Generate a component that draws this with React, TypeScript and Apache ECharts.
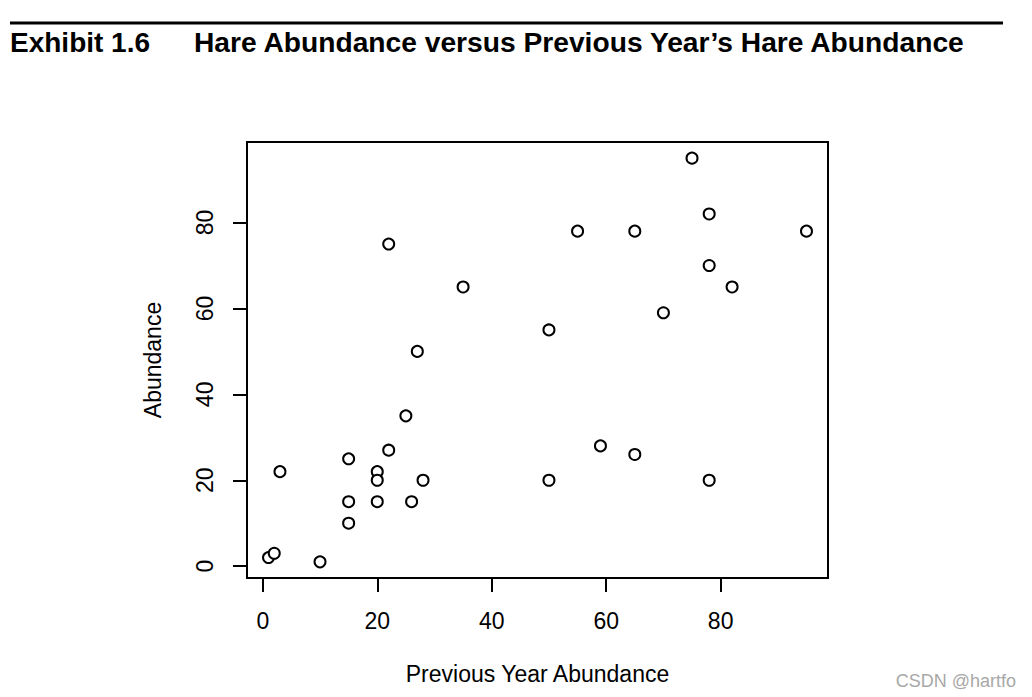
import React, { useEffect, useRef } from "react";
import * as echarts from "echarts";

// Previous year's hare abundance (x) and this year's abundance (y)
const prevYear = [1, 2, 3, 10, 15, 15, 15, 20, 20, 20, 22, 22, 25, 26, 27, 28, 35, 50, 50, 55, 59, 65, 65, 70, 75, 78, 78, 78, 82, 95];
const abundance = [2, 3, 22, 1, 25, 15, 10, 22, 20, 15, 75, 27, 35, 15, 50, 20, 65, 55, 20, 78, 28, 78, 26, 59, 95, 82, 70, 20, 65, 78];
const xTicks = [0, 20, 40, 60, 80];
const yTicks = [0, 20, 40, 60, 80];
const exhibitLabel = "Exhibit 1.6";
const titleText = "Hare Abundance versus Previous Year’s Hare Abundance";
const xName = "Previous Year Abundance";
const yName = "Abundance";
const watermark = "CSDN @hartfo";

const FONT = "'Liberation Sans', Arial, Helvetica, sans-serif";

export default function App() {
  const ref = useRef<HTMLDivElement>(null);
  useEffect(() => {
    if (!ref.current) return;
    const chart = echarts.init(ref.current, null, { renderer: "svg" });
    // R-style 4% padding around data range
    const pad = (arr: number[]) => {
      const mn = Math.min(...arr);
      const mx = Math.max(...arr);
      const d = (mx - mn) * 0.04;
      return [mn - d, mx + d];
    };
    const [xMin, xMax] = pad(prevYear);
    const [yMin, yMax] = pad(abundance);
    const tickStyle = { show: true, inside: false, length: 14, lineStyle: { color: "#000", width: 2 } };
    chart.setOption({
      animation: false,
      backgroundColor: "#fff",
      grid: {
        left: 247,
        right: 204,
        top: 142,
        bottom: 119,
        show: true,
        borderColor: "#000",
        borderWidth: 2,
        backgroundColor: "transparent",
      },
      xAxis: {
        type: "value",
        position: "bottom",
        min: xMin,
        max: xMax,
        splitLine: { show: false },
        axisLine: { show: false, onZero: false },
        axisTick: { ...tickStyle, customValues: xTicks },
        axisLabel: {
          customValues: xTicks,
          margin: 31,
          color: "#000",
          fontSize: 23,
          fontFamily: FONT,
        },
        name: xName,
        nameLocation: "middle",
        nameGap: 84,
        nameTextStyle: { color: "#000", fontSize: 23, fontFamily: FONT },
      },
      yAxis: {
        type: "value",
        position: "left",
        min: yMin,
        max: yMax,
        splitLine: { show: false },
        axisLine: { show: false, onZero: false },
        axisTick: { ...tickStyle, customValues: yTicks },
        axisLabel: {
          customValues: yTicks,
          rotate: 90,
          margin: 31,
          color: "#000",
          fontSize: 23,
          fontFamily: FONT,
        },
        name: yName,
        nameLocation: "middle",
        nameGap: 83,
        nameTextStyle: { color: "#000", fontSize: 23, fontFamily: FONT },
      },
      series: [
        {
          type: "scatter",
          data: prevYear.map((x, i) => [x, abundance[i]]),
          symbol: "circle",
          symbolSize: 11,
          itemStyle: { color: "#fff", borderColor: "#000", borderWidth: 2, opacity: 1 },
          emphasis: { disabled: true },
        },
      ],
      graphic: [
        {
          type: "line",
          shape: { x1: 10, y1: 23, x2: 1003, y2: 23 },
          style: { stroke: "#000", lineWidth: 3 },
        },
        {
          type: "text",
          x: 10,
          y: 42,
          style: {
            text: exhibitLabel,
            fontSize: 28,
            fontWeight: "bold",
            fontFamily: FONT,
            fill: "#000",
            verticalAlign: "middle",
            align: "left",
          },
        },
        {
          type: "text",
          x: 194,
          y: 42,
          style: {
            text: titleText,
            fontSize: 28.2,
            fontWeight: "bold",
            fontFamily: FONT,
            fill: "#000",
            verticalAlign: "middle",
            align: "left",
          },
        },
        {
          type: "text",
          x: 1016,
          y: 681,
          style: {
            text: watermark,
            fontSize: 18,
            fontFamily: FONT,
            fill: "#a8a8a8",
            verticalAlign: "middle",
            align: "right",
          },
        },
      ],
    });
    return () => chart.dispose();
  }, []);
  return (
    <div
      ref={ref}
      style={{ position: "fixed", left: 0, top: 0, width: 1032, height: 697 }}
    />
  );
}
